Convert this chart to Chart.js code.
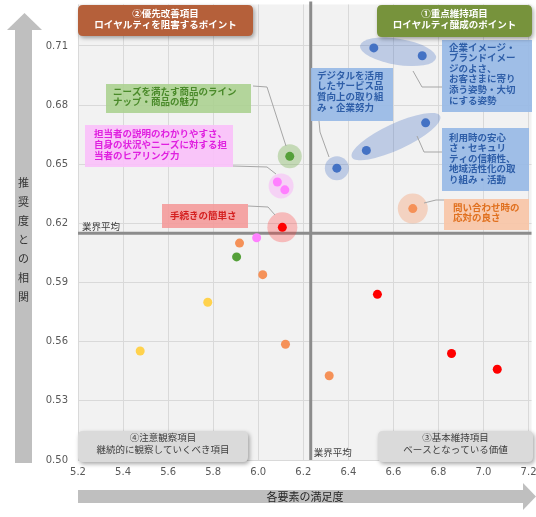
<!DOCTYPE html>
<html>
<head>
<meta charset="utf-8">
<script src="https://cdn.jsdelivr.net/npm/chart.js@4.4.0/dist/chart.umd.min.js"></script>
<style>
  html, body { margin: 0; padding: 0; background: #fff; }
  #wrap { width: 536px; height: 517px; position: relative; }
</style>
</head>
<body>
<div id="wrap"><canvas id="matrix"></canvas></div>
<script>
// 軸の目盛り
const xTicks = [5.2, 5.4, 5.6, 5.8, 6.0, 6.2, 6.4, 6.6, 6.8, 7.0, 7.2];
const yTicks = [0.50, 0.53, 0.56, 0.59, 0.62, 0.65, 0.68, 0.71];

// 業界平均
const avgX = 6.233;
const avgY = 0.615;

// 各要素（満足度, 推奨度との相関）
const blueX = [6.513, 6.728, 6.743, 6.480, 6.349];
const blueY = [0.709, 0.705, 0.671, 0.657, 0.648];
const greenX = [6.140, 5.904];
const greenY = [0.654, 0.603];
const pinkX = [6.085, 6.118, 5.993];
const pinkY = [0.641, 0.637, 0.6127];
const redX = [6.107, 6.529, 6.858, 7.061];
const redY = [0.618, 0.584, 0.554, 0.546];
const orangeX = [6.686, 5.917, 6.020, 6.121, 6.315];
const orangeY = [0.6275, 0.610, 0.594, 0.5587, 0.5427];
const yellowX = [5.776, 5.476];
const yellowY = [0.580, 0.5553];

const toPoints = (xs, ys) => xs.map((x, i) => ({ x: x, y: ys[i] }));

const JP = '"Noto Sans CJK JP", "Noto Sans", sans-serif';

// 強調表示（データ点のまわりの楕円）
const highlights = [
  { ds: 0, idx: [0, 1], pad: 14, ry: 13, fill: "rgba(68,114,196,0.3)" },
  { ds: 0, idx: [2, 3], pad: 16, ry: 13, fill: "rgba(68,114,196,0.3)" },
  { ds: 0, idx: [4], r: 12, fill: "rgba(68,114,196,0.3)" },
  { ds: 1, idx: [0], r: 12, fill: "rgba(112,173,71,0.35)" },
  { ds: 2, idx: [0, 1], r: 12.5, fill: "rgba(255,128,255,0.28)" },
  { ds: 3, idx: [0], r: 15, fill: "rgba(255,60,60,0.3)" },
  { ds: 4, idx: [0], r: 15, fill: "rgba(244,137,79,0.3)" }
];

// 吹き出し
const callouts = [
  { lines: ["ニーズを満たす商品のライン", "ナップ・商品の魅力"], box: [106, 84, 145, 29], fill: "rgba(168,208,140,0.85)", color: "#4a8a2a", tx: 113, ty: 91, lh: 10.5,
    leader: [[253, 86], [267, 87], [286, 146]] },
  { lines: ["担当者の説明のわかりやすさ、", "自身の状況やニーズに対する担", "当者のヒアリング力"], box: [85, 125, 148, 42], fill: "rgba(250,192,250,0.9)", color: "#e020e0", tx: 94, ty: 133, lh: 11,
    leader: [[233, 166], [267, 167], [276, 174]] },
  { lines: ["手続きの簡単さ"], box: [162, 204, 86, 24], fill: "rgba(245,150,150,0.85)", color: "#d42020", tx: 170, ty: 215, lh: 11,
    leader: [[248, 206], [268, 207], [275, 215]] },
  { lines: ["デジタルを活用", "したサービス品", "質向上の取り組", "み・企業努力"], box: [311, 68, 82, 53], fill: "rgba(152,186,230,0.92)", color: "#2e5ea8", tx: 317, ty: 75, lh: 10.7,
    leader: [[319, 121], [320, 132], [329, 157]] },
  { lines: ["企業イメージ・", "ブランドイメー", "ジのよさ、", "お客さまに寄り", "添う姿勢・大切", "にする姿勢"], box: [442, 40, 90, 72], fill: "rgba(152,186,230,0.92)", color: "#2e5ea8", tx: 449, ty: 47, lh: 10.6,
    leader: [[413, 71], [422, 87], [442, 87]] },
  { lines: ["利用時の安心", "さ・セキュリ", "ティの信頼性、", "地域活性化の取", "り組み・活動"], box: [442, 128, 87, 63], fill: "rgba(152,186,230,0.92)", color: "#2e5ea8", tx: 449, ty: 137, lh: 10.5,
    leader: [[417, 136], [424, 152], [442, 152]] },
  { lines: ["問い合わせ時の", "応対の良さ"], box: [444, 199, 85, 31], fill: "rgba(248,196,165,0.9)", color: "#e0701e", tx: 453, ty: 207, lh: 10.5,
    leader: [[424, 203], [436, 200], [444, 200]] }
];

// 象限ラベル
const quadrants = [
  { lines: ["②優先改善項目", "ロイヤルティを阻害するポイント"], box: [78, 5, 175, 31], fill: "#b5603a", color: "#fff", bold: true, cy: [13, 24] },
  { lines: ["①重点維持項目", "ロイヤルティ醸成のポイント"], box: [377, 5, 155, 32], fill: "#77933c", color: "#fff", bold: true, cy: [13, 24] },
  { lines: ["④注意観察項目", "継続的に観察していくべき項目"], box: [78, 431, 170, 31], fill: "#dadada", color: "#404040", bold: false, cy: [437, 449] },
  { lines: ["③基本維持項目", "ベースとなっている価値"], box: [378, 431, 155, 31], fill: "#dadada", color: "#404040", bold: false, cy: [437, 449] }
];

function roundRect(ctx, x, y, w, h, r) {
  ctx.beginPath();
  ctx.moveTo(x + r, y);
  ctx.lineTo(x + w - r, y);
  ctx.quadraticCurveTo(x + w, y, x + w, y + r);
  ctx.lineTo(x + w, y + h - r);
  ctx.quadraticCurveTo(x + w, y + h, x + w - r, y + h);
  ctx.lineTo(x + r, y + h);
  ctx.quadraticCurveTo(x, y + h, x, y + h - r);
  ctx.lineTo(x, y + r);
  ctx.quadraticCurveTo(x, y, x + r, y);
  ctx.closePath();
}

const matrixPlugin = {
  id: "matrix",
  beforeDraw(chart) {
    const { ctx, chartArea: a } = chart;
    ctx.save();
    ctx.fillStyle = "#f2f2f2";
    ctx.fillRect(a.left, a.top, a.right - a.left, a.bottom - a.top);
    ctx.restore();
  },
  beforeDatasetsDraw(chart) {
    const { ctx, chartArea: a, scales } = chart;
    const px = scales.x.getPixelForValue(avgX);
    const py = scales.y.getPixelForValue(avgY);
    ctx.save();
    // 業界平均ライン
    ctx.strokeStyle = "#8c8c8c";
    ctx.lineWidth = 3;
    ctx.beginPath();
    ctx.moveTo(a.left, py);
    ctx.lineTo(a.right, py);
    ctx.moveTo(px, a.top - 3);
    ctx.lineTo(px, a.bottom);
    ctx.stroke();
    ctx.fillStyle = "#404040";
    ctx.font = "9.5px " + JP;
    ctx.textBaseline = "middle";
    ctx.fillText("業界平均", a.left + 4, py - 7);
    ctx.fillText("業界平均", px + 3, a.bottom - 8);

    // 強調の楕円
    highlights.forEach(h => {
      const meta = chart.getDatasetMeta(h.ds);
      const pts = h.idx.map(i => meta.data[i]);
      ctx.fillStyle = h.fill;
      ctx.beginPath();
      if (pts.length === 1) {
        ctx.arc(pts[0].x, pts[0].y, h.r, 0, Math.PI * 2);
      } else {
        const cx = (pts[0].x + pts[1].x) / 2;
        const cy = (pts[0].y + pts[1].y) / 2;
        if (h.r) {
          ctx.arc(cx, cy, h.r, 0, Math.PI * 2);
        } else {
          const dx = pts[1].x - pts[0].x, dy = pts[1].y - pts[0].y;
          const len = Math.sqrt(dx * dx + dy * dy);
          ctx.ellipse(cx, cy, len / 2 + h.pad, h.ry, Math.atan2(dy, dx), 0, Math.PI * 2);
        }
      }
      ctx.fill();
    });
    ctx.restore();
  },
  afterDraw(chart) {
    const { ctx, chartArea: a } = chart;
    ctx.save();

    // 吹き出し
    callouts.forEach(c => {
      ctx.strokeStyle = "#a6a6a6";
      ctx.lineWidth = 1;
      ctx.beginPath();
      c.leader.forEach((p, i) => i === 0 ? ctx.moveTo(p[0], p[1]) : ctx.lineTo(p[0], p[1]));
      ctx.stroke();
      ctx.fillStyle = c.fill;
      ctx.fillRect(c.box[0], c.box[1], c.box[2], c.box[3]);
      ctx.fillStyle = c.color;
      ctx.font = "bold 9.5px " + JP;
      ctx.textBaseline = "middle";
      ctx.textAlign = "left";
      c.lines.forEach((t, i) => ctx.fillText(t, c.tx, c.ty + i * c.lh));
    });

    // 象限ラベル
    quadrants.forEach(q => {
      ctx.save();
      ctx.shadowColor = "rgba(0,0,0,0.35)";
      ctx.shadowBlur = 4;
      ctx.shadowOffsetX = 1.5;
      ctx.shadowOffsetY = 2;
      ctx.fillStyle = q.fill;
      roundRect(ctx, q.box[0], q.box[1], q.box[2], q.box[3], 5);
      ctx.fill();
      ctx.restore();
      ctx.fillStyle = q.color;
      ctx.font = (q.bold ? "bold " : "") + "9.5px " + JP;
      ctx.textAlign = "center";
      ctx.textBaseline = "middle";
      const cx = q.box[0] + q.box[2] / 2;
      q.lines.forEach((t, i) => ctx.fillText(t, cx, q.cy[i]));
    });

    // 縦軸の矢印
    ctx.fillStyle = "#bfbfbf";
    ctx.fillRect(15, 30, 17, a.bottom + 3 - 30);
    ctx.beginPath();
    ctx.moveTo(7, 30);
    ctx.lineTo(42, 30);
    ctx.lineTo(24.5, 13);
    ctx.closePath();
    ctx.fill();
    ctx.fillStyle = "#333";
    ctx.font = "11px " + JP;
    ctx.textAlign = "center";
    ctx.textBaseline = "middle";
    Array.from("推奨度との相関").forEach((ch, i) => ctx.fillText(ch, 23.5, 183 + i * 19));

    // 横軸の矢印
    ctx.fillStyle = "#bfbfbf";
    ctx.fillRect(a.left, 490, 523 - a.left, 13);
    ctx.beginPath();
    ctx.moveTo(523, 483);
    ctx.lineTo(523, 510);
    ctx.lineTo(536, 496.5);
    ctx.closePath();
    ctx.fill();
    ctx.fillStyle = "#262626";
    ctx.fillText("各要素の満足度", 305, 497);

    ctx.restore();
  }
};

const tickFont = { family: '"DejaVu Sans", sans-serif', size: 10 };

new Chart(document.getElementById("matrix"), {
  type: "scatter",
  data: {
    datasets: [
      { label: "blue", data: toPoints(blueX, blueY), backgroundColor: "#4472c4" },
      { label: "green", data: toPoints(greenX, greenY), backgroundColor: "#55a03a" },
      { label: "pink", data: toPoints(pinkX, pinkY), backgroundColor: "#ff80ff" },
      { label: "red", data: toPoints(redX, redY), backgroundColor: "#ff0000" },
      { label: "orange", data: toPoints(orangeX, orangeY), backgroundColor: "#f59158" },
      { label: "yellow", data: toPoints(yellowX, yellowY), backgroundColor: "#ffd24d" }
    ]
  },
  options: {
    responsive: true,
    maintainAspectRatio: false,
    animation: false,
    layout: { padding: { top: 3, right: 0, left: 0, bottom: 0 } },
    elements: { point: { radius: 4.5, borderWidth: 0, hoverRadius: 4.5 } },
    plugins: { legend: { display: false }, tooltip: { enabled: false } },
    scales: {
      x: {
        type: "linear",
        min: 5.2,
        max: 7.213,
        afterBuildTicks: s => { s.ticks = xTicks.map(v => ({ value: v })); },
        afterFit: s => { s.height = 57; s.paddingLeft = 0; s.paddingRight = 3; },
        grid: { color: "#d9d9d9", drawTicks: false },
        border: { display: false },
        ticks: { padding: 6, color: "#595959", font: tickFont, callback: v => Number(v).toFixed(1) }
      },
      y: {
        type: "linear",
        min: 0.5,
        max: 0.731,
        afterBuildTicks: s => { s.ticks = yTicks.map(v => ({ value: v })); },
        afterFit: s => { s.width = 78; s.paddingTop = 0; s.paddingBottom = 0; },
        grid: { color: "#d9d9d9", drawTicks: false },
        border: { display: false },
        ticks: { padding: 10, color: "#595959", font: tickFont, callback: v => Number(v).toFixed(2) }
      }
    }
  },
  plugins: [matrixPlugin]
});
</script>
</body>
</html>
